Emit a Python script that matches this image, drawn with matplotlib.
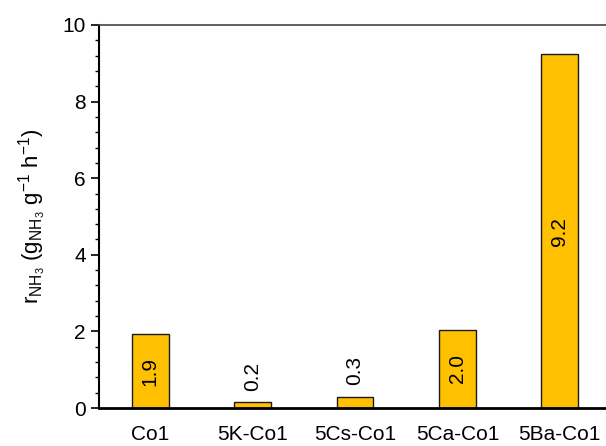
import numpy as np
import matplotlib.pyplot as plt
from matplotlib.ticker import MultipleLocator

plt.rcParams['font.family'] = ['Liberation Sans', 'DejaVu Sans']
plt.rcParams['mathtext.fontset'] = 'custom'
plt.rcParams['mathtext.rm'] = 'Liberation Sans'
plt.rcParams['mathtext.it'] = 'Liberation Sans'

catalysts = ['Co1', '5K-Co1', '5Cs-Co1', '5Ca-Co1', '5Ba-Co1']
rates = [1.93, 0.15, 0.30, 2.04, 9.23]
labels = ['1.9', '0.2', '0.3', '2.0', '9.2']

fig = plt.figure(figsize=(6.06, 4.46), dpi=100)
ax = fig.add_axes([99/606, 38/446, 512/606, 383/446])

x = np.arange(len(catalysts))
ax.bar(x, rates, width=0.36, color='#FFC000', edgecolor='#1a1a1a', linewidth=1.0)

for xi, v, lab in zip(x, rates, labels):
    if v > 1:
        ax.text(xi, v/2, lab, rotation=90, ha='center', va='center', fontsize=15)
    else:
        ax.text(xi, v + 0.3, lab, rotation=90, ha='center', va='bottom', fontsize=15)

ax.set_xlim(-0.5, 4.5)
ax.set_ylim(0, 10)
ax.set_xticks(x)
ax.set_xticklabels(catalysts, fontsize=15)
ax.tick_params(axis='x', length=0, pad=12)
ax.yaxis.set_major_locator(MultipleLocator(2))
ax.yaxis.set_minor_locator(MultipleLocator(0.4))
ax.tick_params(axis='y', which='major', length=6, width=1.2, labelsize=15, direction='out')
ax.tick_params(axis='y', which='minor', length=3, width=1.0, direction='out')
ax.spines['right'].set_visible(False)
ax.spines['left'].set_linewidth(1.5)
ax.spines['bottom'].set_linewidth(2)
ax.spines['top'].set_linewidth(1.2)
ax.spines['top'].set_color('#444444')

ax.set_ylabel(r'r$_{\mathregular{NH_3}}$ (g$_{\mathregular{NH_3}}$ g$^{\mathregular{-1}}$ h$^{\mathregular{-1}}$)',
              fontsize=16, labelpad=10)

fig.savefig('out.png', dpi=100)
